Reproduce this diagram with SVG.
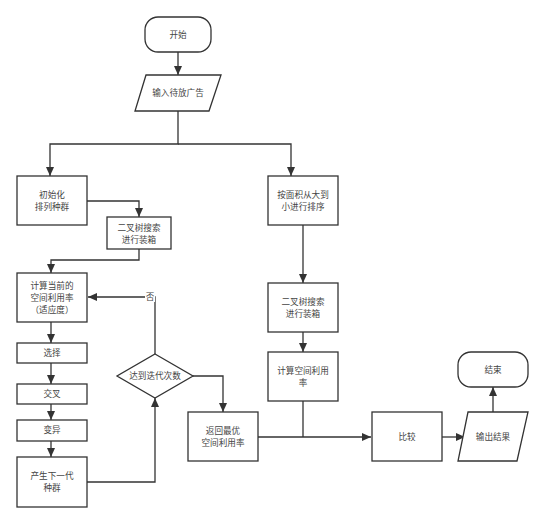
<svg xmlns="http://www.w3.org/2000/svg" width="545" height="524" viewBox="0 0 545 524">
<defs>
<marker id="arr" markerUnits="userSpaceOnUse" markerWidth="10" markerHeight="10" refX="9" refY="5" orient="auto" viewBox="0 0 10 10">
<path d="M0,1 L9,5 L0,9 Z" fill="#333"/>
</marker>
</defs>
<style>
.n{fill:#fff;stroke:#333;stroke-width:1.3}
.t{font-family:"Noto Sans CJK SC","Noto Sans",sans-serif;font-size:8.6px;fill:#444;text-anchor:middle}
.c{fill:none;stroke:#333;stroke-width:1.3}
</style>
<rect width="545" height="524" fill="#fff"/>
<g id="connectors">
<path class="c" d="M178,52 V75" marker-end="url(#arr)"/>
<path class="c" d="M178,111 V144 H50 V176" marker-end="url(#arr)"/>
<path class="c" d="M178,144 H291 V176" marker-end="url(#arr)"/>
<path class="c" d="M87,201 H139 V217" marker-end="url(#arr)"/>
<path class="c" d="M139,249 V260 H51 V273" marker-end="url(#arr)"/>
<path class="c" d="M51,322 V343" marker-end="url(#arr)"/>
<path class="c" d="M51,363 V384" marker-end="url(#arr)"/>
<path class="c" d="M51,404 V420" marker-end="url(#arr)"/>
<path class="c" d="M51,441 V457" marker-end="url(#arr)"/>
<path class="c" d="M87,482 H155 V398" marker-end="url(#arr)"/>
<path class="c" d="M155,354 V297 H88" marker-end="url(#arr)"/>
<path class="c" d="M193,376 H223 V412" marker-end="url(#arr)"/>
<path class="c" d="M303,225 V283" marker-end="url(#arr)"/>
<path class="c" d="M303,332 V352" marker-end="url(#arr)"/>
<path class="c" d="M258,437 H371" marker-end="url(#arr)"/>
<path class="c" d="M303,401 V437"/>
<path class="c" d="M442,437 H465" marker-end="url(#arr)"/>
<path class="c" d="M493,412 V387" marker-end="url(#arr)"/>
<rect x="145" y="291" width="10" height="11" fill="#fff"/>
<text class="t" x="150" y="300">否</text>
</g>
<g id="start"><rect class="n" x="145" y="17" width="66" height="35" rx="13"/><text class="t" x="178" y="38">开始</text></g>
<g id="input"><polygon class="n" points="146,75 221,75 209,111 135,111"/><text class="t" x="178" y="96">输入待放广告</text></g>
<g id="init"><rect class="n" x="17" y="176" width="70" height="49"/><text class="t" x="52" y="198">初始化</text><text class="t" x="52" y="210">排列种群</text></g>
<g id="bst1"><rect class="n" x="107" y="217" width="64" height="32"/><text class="t" x="139" y="231">二叉树搜索</text><text class="t" x="139" y="243">进行装箱</text></g>
<g id="fitness"><rect class="n" x="17" y="273" width="70" height="49"/><text class="t" x="52" y="289">计算当前的</text><text class="t" x="52" y="301">空间利用率</text><text class="t" x="52" y="313">（适应度）</text></g>
<g id="select"><rect class="n" x="17" y="343" width="70" height="20"/><text class="t" x="52" y="356">选择</text></g>
<g id="cross"><rect class="n" x="17" y="384" width="70" height="20"/><text class="t" x="52" y="397">交叉</text></g>
<g id="mutate"><rect class="n" x="17" y="420" width="70" height="21"/><text class="t" x="52" y="433">变异</text></g>
<g id="nextgen"><rect class="n" x="17" y="457" width="70" height="50"/><text class="t" x="52" y="479">产生下一代</text><text class="t" x="52" y="491">种群</text></g>
<g id="decision"><polygon class="n" points="155,354 193,376 155,398 117,376"/><text class="t" x="155" y="379">达到迭代次数</text></g>
<g id="best"><rect class="n" x="188" y="412" width="70" height="49"/><text class="t" x="223" y="434">返回最优</text><text class="t" x="223" y="446">空间利用率</text></g>
<g id="sort"><rect class="n" x="268" y="176" width="70" height="49"/><text class="t" x="303" y="198">按面积从大到</text><text class="t" x="303" y="210">小进行排序</text></g>
<g id="bst2"><rect class="n" x="268" y="283" width="70" height="49"/><text class="t" x="303" y="305">二叉树搜索</text><text class="t" x="303" y="317">进行装箱</text></g>
<g id="calc"><rect class="n" x="268" y="352" width="70" height="49"/><text class="t" x="303" y="374">计算空间利用</text><text class="t" x="303" y="386">率</text></g>
<g id="compare"><rect class="n" x="372" y="412" width="70" height="49"/><text class="t" x="407" y="440">比较</text></g>
<g id="output"><polygon class="n" points="468,412 528,412 517,461 458,461"/><text class="t" x="493" y="440">输出结果</text></g>
<g id="end"><rect class="n" x="458" y="352" width="70" height="35" rx="13"/><text class="t" x="493" y="373">结束</text></g>
</svg>
